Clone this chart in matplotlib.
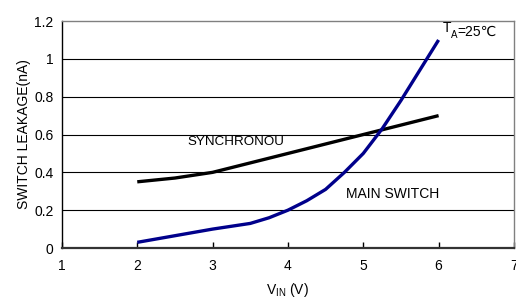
import matplotlib
matplotlib.use("Agg")
import matplotlib.pyplot as plt

plt.rcParams["font.family"] = ["Liberation Sans", "DejaVu Sans"]

# supply voltage (V) and leakage (nA)
vin_sync = [2.0, 2.5, 3.0, 3.5, 4.0, 4.5, 5.0, 5.5, 6.0]
leak_sync = [0.35, 0.37, 0.40, 0.45, 0.50, 0.55, 0.60, 0.65, 0.70]

vin_main = [2.0, 2.5, 3.0, 3.5, 3.75, 4.0, 4.25, 4.5, 4.75, 5.0, 5.25, 5.5, 5.75, 6.0]
leak_main = [0.03, 0.065, 0.10, 0.13, 0.16, 0.20, 0.25, 0.31, 0.40, 0.50, 0.63, 0.78, 0.94, 1.10]

xticks = [1, 2, 3, 4, 5, 6, 7]
yticks = [0, 0.2, 0.4, 0.6, 0.8, 1.0, 1.2]
yticklabels = ["0", "0.2", "0.4", "0.6", "0.8", "1", "1.2"]

fig = plt.figure(figsize=(5.16, 3.03), dpi=100)
ax = fig.add_axes([0.120, 0.1815, 0.876, 0.749])

for y in yticks[1:-1]:
    ax.axhline(y, color="black", lw=0.8, zorder=1)

ax.plot(vin_sync, leak_sync, color="black", lw=2.4, solid_capstyle="butt", zorder=3)
ax.plot(vin_main, leak_main, color="#00008B", lw=2.4, solid_capstyle="butt", zorder=3)

ax.set_xlim(1, 7)
ax.set_ylim(0, 1.2)
ax.set_xticks(xticks)
ax.set_yticks(yticks)
ax.set_yticklabels(yticklabels)
ax.tick_params(axis="x", direction="in", length=4, width=1, pad=8, labelsize=10)
ax.tick_params(axis="y", length=0, pad=6, labelsize=10)

for side in ("top", "right"):
    ax.spines[side].set_color("#808080")
    ax.spines[side].set_linewidth(1.0)
ax.spines["left"].set_color("black")
ax.spines["bottom"].set_color("#333333")
ax.spines["left"].set_linewidth(1.0)
ax.spines["bottom"].set_linewidth(1.6)

ax.text(2.67, 0.56, "SYNCHRONOU", fontsize=9.6, va="center", ha="left")
ax.text(4.77, 0.285, "MAIN SWITCH", fontsize=10, va="center", ha="left")

# T_A=25℃ built from pieces so the ℃ sign can fall back to DejaVu Sans
t1 = ax.text(6.05, 1.14, "T", fontsize=10, va="baseline", ha="left")
t2 = ax.annotate("A", xy=(1, 0), xycoords=t1, xytext=(0, -2),
                 textcoords="offset points", fontsize=7, va="baseline", ha="left")
ax.annotate("=25℃", xy=(1, 0), xycoords=t1, xytext=(5, 0),
            textcoords="offset points", fontsize=10, va="baseline", ha="left",
            family=["Liberation Sans", "DejaVu Sans"])

ax.set_xlabel("V$_\\mathregular{IN}$ (V)", fontsize=10, labelpad=6)
ax.set_ylabel("SWITCH LEAKAGE(nA)", fontsize=10, labelpad=2)

fig.savefig("out.png", dpi=100)
